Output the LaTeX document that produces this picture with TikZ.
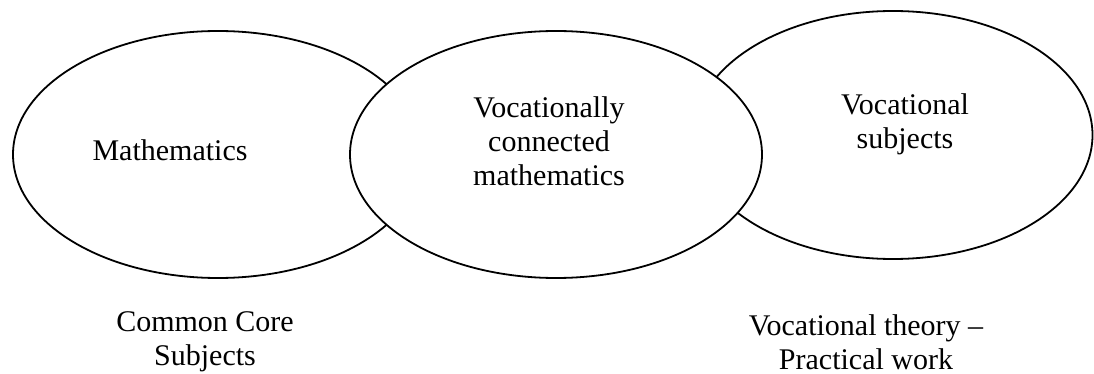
\documentclass[tikz,border=0pt]{standalone}
\usepackage{fontspec}
\setmainfont{Liberation Serif}
\begin{document}
\begin{tikzpicture}[x=1pt,y=-1pt,
  ellline/.style={line width=1.8pt,draw=black,fill=white},
  lbl/.style={align=center,inner sep=0pt,font=\fontsize{30}{34}\selectfont}]
\useasboundingbox (0,0) rectangle (1094,374);
\draw[ellline] (218,154.5) ellipse [x radius=205,y radius=123.5];
\draw[ellline] (893,135) ellipse [x radius=199.5,y radius=124];
\draw[ellline] (556,154.5) ellipse [x radius=206,y radius=123.5];
\node[lbl] (math) at (170,150) {Mathematics};
\node[lbl] (vcm) at (549,141) {Vocationally\\connected\\mathematics};
\node[lbl] (vs) at (905,124) {Vocational\\subjects};
\node[lbl] (ccs) at (205,342) {Common Core\\Subjects};
\node[lbl] (vtp) at (866,342) {Vocational theory --\\Practical work};
\end{tikzpicture}
\end{document}
